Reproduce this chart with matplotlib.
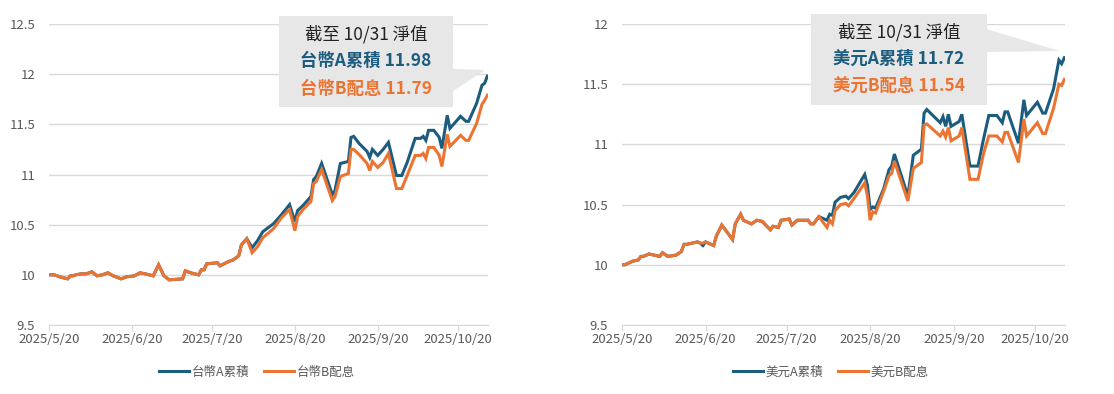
import pandas as pd
import matplotlib
matplotlib.use("Agg")
import matplotlib.pyplot as plt
import matplotlib.dates as mdates
from matplotlib.patches import Polygon, Rectangle

plt.rcParams['font.family'] = ['Noto Sans CJK TC', 'DejaVu Sans']

start = pd.Timestamp('2025-05-20')

# left chart: days after 5/20 and NAV
twd_days = [0, 2, 4, 7, 8, 9, 10, 12, 14, 16, 18, 20, 22, 24, 27, 29, 32, 34, 36, 39,
            41, 43, 45, 50, 51, 53, 56, 57, 58, 59, 63, 64, 67, 69, 71, 72, 74, 76, 78, 80,
            84, 87, 90, 92, 93, 95, 98, 99, 100, 102, 106, 107, 109, 112, 113, 114, 116, 119, 120, 121,
            123, 125, 127, 130, 132, 134, 137, 139, 140, 141, 142, 144, 146, 147, 149, 150, 154, 156, 157, 160,
            162, 163, 164]
twd_a = [10.00, 10.00, 9.98, 9.96, 9.99, 9.99, 10.00, 10.01, 10.01, 10.03, 9.99, 10.00, 10.02, 9.99, 9.96, 9.98, 9.99, 10.02, 10.01, 9.99,
         10.10, 9.99, 9.95, 9.96, 10.04, 10.02, 10.00, 10.05, 10.05, 10.11, 10.12, 10.09, 10.13, 10.15, 10.19, 10.30, 10.36, 10.27, 10.34, 10.43,
         10.51, 10.60, 10.70, 10.53, 10.64, 10.69, 10.78, 10.95, 10.98, 11.11, 10.80, 10.84, 11.11, 11.13, 11.37, 11.38, 11.31, 11.23, 11.17, 11.25,
         11.19, 11.25, 11.32, 10.99, 10.99, 11.12, 11.36, 11.36, 11.38, 11.34, 11.44, 11.44, 11.37, 11.26, 11.59, 11.46, 11.58, 11.53, 11.53, 11.71,
         11.89, 11.91, 11.98]
twd_b = [10.00, 10.00, 9.98, 9.96, 9.99, 9.99, 10.00, 10.01, 10.01, 10.03, 9.99, 10.00, 10.02, 9.99, 9.96, 9.98, 9.99, 10.02, 10.01, 9.99,
         10.10, 9.99, 9.95, 9.96, 10.04, 10.02, 10.00, 10.05, 10.05, 10.11, 10.12, 10.09, 10.13, 10.15, 10.19, 10.30, 10.36, 10.22, 10.28, 10.37,
         10.46, 10.57, 10.65, 10.44, 10.58, 10.65, 10.73, 10.91, 10.93, 11.05, 10.74, 10.78, 10.98, 11.01, 11.25, 11.25, 11.20, 11.11, 11.04, 11.13,
         11.07, 11.12, 11.21, 10.86, 10.86, 10.99, 11.19, 11.19, 11.21, 11.16, 11.27, 11.27, 11.19, 11.08, 11.40, 11.28, 11.39, 11.34, 11.34, 11.51,
         11.70, 11.74, 11.79]

# right chart
usd_days = [0, 1, 3, 4, 6, 7, 8, 10, 12, 14, 15, 17, 20, 22, 23, 24, 28, 29, 30, 31,
            34, 35, 37, 41, 42, 44, 45, 48, 50, 52, 55, 56, 58, 59, 62, 63, 65, 69, 70, 71,
            73, 76, 77, 78, 79, 81, 83, 84, 86, 90, 91, 92, 93, 94, 97, 99, 100, 101, 106, 108,
            111, 112, 113, 118, 119, 120, 121, 122, 125, 126, 129, 132, 134, 136, 139, 141, 142, 143, 147, 149,
            150, 154, 156, 157, 160, 162, 163, 164]
usd_a = [10.00, 10.00, 10.02, 10.03, 10.04, 10.07, 10.07, 10.09, 10.08, 10.07, 10.10, 10.07, 10.08, 10.11, 10.17, 10.17, 10.19, 10.18, 10.16, 10.19,
         10.16, 10.24, 10.33, 10.21, 10.34, 10.42, 10.37, 10.34, 10.37, 10.36, 10.29, 10.32, 10.31, 10.37, 10.38, 10.33, 10.37, 10.37, 10.34, 10.34,
         10.40, 10.37, 10.42, 10.41, 10.52, 10.56, 10.57, 10.55, 10.60, 10.75, 10.66, 10.46, 10.48, 10.47, 10.63, 10.79, 10.82, 10.92, 10.57, 10.91,
         10.96, 11.26, 11.29, 11.18, 11.23, 11.15, 11.25, 11.15, 11.19, 11.25, 10.82, 10.82, 11.04, 11.24, 11.24, 11.18, 11.27, 11.27, 11.01, 11.37,
         11.24, 11.35, 11.26, 11.26, 11.46, 11.70, 11.67, 11.72]
usd_b = [10.00, 10.00, 10.02, 10.03, 10.04, 10.07, 10.07, 10.09, 10.08, 10.07, 10.10, 10.07, 10.08, 10.11, 10.17, 10.17, 10.19, 10.18, 10.18, 10.19,
         10.16, 10.24, 10.33, 10.21, 10.34, 10.42, 10.37, 10.34, 10.37, 10.36, 10.29, 10.32, 10.31, 10.37, 10.38, 10.33, 10.37, 10.37, 10.34, 10.34,
         10.40, 10.31, 10.37, 10.34, 10.45, 10.50, 10.51, 10.49, 10.55, 10.68, 10.57, 10.37, 10.44, 10.43, 10.61, 10.74, 10.76, 10.86, 10.53, 10.80,
         10.85, 11.16, 11.17, 11.07, 11.11, 11.06, 11.14, 11.03, 11.07, 11.14, 10.71, 10.71, 10.92, 11.07, 11.07, 11.02, 11.10, 11.10, 10.85, 11.21,
         11.07, 11.18, 11.09, 11.09, 11.30, 11.50, 11.49, 11.54]

tick_dates = ['2025-05-20', '2025-06-20', '2025-07-20', '2025-08-20', '2025-09-20', '2025-10-20']
tick_labels = ['2025/5/20', '2025/6/20', '2025/7/20', '2025/8/20', '2025/9/20', '2025/10/20']

BLUE = '#1c5d7f'
ORANGE = '#ec7433'
GRAY = '#595959'

W, H = 1114, 394
fig = plt.figure(figsize=(W / 100, H / 100), dpi=100)


def px(x, y):
    return (x / W, 1 - y / H)


def draw_panel(rect, days, a, b, names, ylim, yticks, box, tail, latest, legend_x):
    ax = fig.add_axes(rect)
    d = start + pd.to_timedelta(days, unit='D')
    la, = ax.plot(d, a, color=BLUE, lw=2.2, solid_joinstyle='miter')
    lb, = ax.plot(d, b, color=ORANGE, lw=2.2, solid_joinstyle='miter')
    ax.set_xlim(start, pd.Timestamp('2025-10-31 06:00'))
    ax.set_ylim(*ylim)
    ax.set_yticks(yticks)
    ax.set_yticklabels([('%g' % t) for t in yticks])
    ax.set_xticks(pd.to_datetime(tick_dates))
    ax.set_xticklabels(tick_labels)
    ax.grid(axis='y', color='#d9d9d9', lw=1)
    ax.set_axisbelow(True)
    for s in ['top', 'right', 'left']:
        ax.spines[s].set_visible(False)
    ax.spines['bottom'].set_color('#d9d9d9')
    ax.tick_params(axis='y', length=0, pad=10, labelsize=9.5, labelcolor=GRAY)
    ax.tick_params(axis='x', length=4, color='#d9d9d9', pad=2, labelsize=9.5, labelcolor=GRAY)

    # callout box with tail
    x0, y0, x1, y1 = box
    fig.patches.append(Polygon([px(*p) for p in tail], closed=True, transform=fig.transFigure,
                               facecolor='#e7e7e7', edgecolor='none', zorder=5))
    fig.patches.append(Rectangle(px(x0, y1), (x1 - x0) / W, (y1 - y0) / H, transform=fig.transFigure,
                                 facecolor='#e7e7e7', edgecolor='none', zorder=5))
    cx = (x0 + x1) / 2
    fig.text(*px(cx, y0 + 18), '截至 10/31 淨值', ha='center', va='center', fontsize=12.5, color='#222222', zorder=6)
    fig.text(*px(cx, y0 + 45), '%s %.2f' % (names[0], latest[0]), ha='center', va='center',
             fontsize=12.5, fontweight='bold', color=BLUE, zorder=6)
    fig.text(*px(cx, y0 + 73), '%s %.2f' % (names[1], latest[1]), ha='center', va='center',
             fontsize=12.5, fontweight='bold', color=ORANGE, zorder=6)

    fig.legend([la, lb], names, loc='center', bbox_to_anchor=px(legend_x, 372), ncol=2, frameon=False,
               fontsize=9, labelcolor=GRAY, handlelength=2.4, handletextpad=0.2, columnspacing=1.2)
    return ax


draw_panel([49 / W, 1 - 325 / H, 439 / W, 301 / H], twd_days, twd_a, twd_b,
           ['台幣A累積', '台幣B配息'], (9.5, 12.5), [9.5, 10, 10.5, 11, 11.5, 12, 12.5],
           (279, 16, 453, 107), [(452, 69), (485, 70), (452, 92)], (twd_a[-1], twd_b[-1]), 257)

draw_panel([622 / W, 1 - 325 / H, 443 / W, 301 / H], usd_days, usd_a, usd_b,
           ['美元A累積', '美元B配息'], (9.5, 12.0), [9.5, 10, 10.5, 11, 11.5, 12],
           (811, 14, 987, 105), [(986, 29), (1060, 51), (986, 52)], (usd_a[-1], usd_b[-1]), 831)

fig.savefig('out.png', dpi=100)
